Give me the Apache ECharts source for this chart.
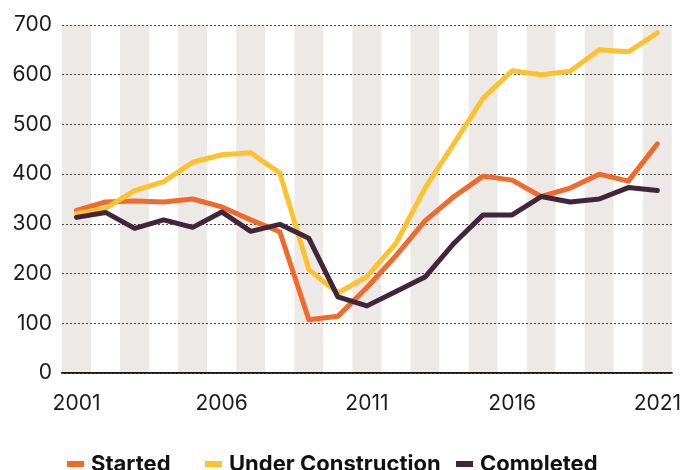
<!DOCTYPE html>
<html>
<head>
<meta charset="utf-8">
<script src="https://cdn.jsdelivr.net/npm/echarts@6/dist/echarts.min.js"></script>
<style>
  html, body { margin: 0; padding: 0; background: #fff; }
  #chart { width: 684px; height: 470px; }
</style>
</head>
<body>
<div id="chart"></div>
<script>
// data
var years = ['2001', '2002', '2003', '2004', '2005', '2006', '2007', '2008', '2009', '2010',
	'2011', '2012', '2013', '2014', '2015', '2016', '2017', '2018', '2019', '2020', '2021'];
var started = [327, 344, 346, 344, 350, 334, 308, 284, 107, 114,
	172, 236, 306, 355, 396, 388, 355, 372, 400, 386, 461];
var underConstruction = [321, 331, 367, 385, 424, 439, 443, 402, 208, 161,
	194, 261, 372, 462, 553, 608, 600, 607, 650, 646, 684];
var completed = [313, 323, 291, 308, 293, 324, 285, 299, 271, 153,
	135, 164, 193, 261, 318, 318, 355, 344, 350, 373, 367];

var colStarted = '#f26a2b';
var colUnder = '#fdc22e';
var colCompleted = '#41263b';

var chart = echarts.init(document.getElementById('chart'));

function legendAt(name, left) {
	return {
		data: [name],
		left: left,
		top: 447,
		icon: 'rect',
		itemWidth: 17,
		itemHeight: 6,
		itemGap: 0,
		selectedMode: false,
		textStyle: { fontFamily: 'Inter', fontSize: 22, fontWeight: 700, color: '#111', lineHeight: 24, padding: [0, 0, 0, 2] }
	};
}

function lineSeries(name, values, color) {
	return {
		name: name,
		type: 'line',
		data: values,
		symbol: 'none',
		z: 5,
		lineStyle: { width: 5, color: color, cap: 'round', join: 'round' },
		itemStyle: { color: color },
		animation: false
	};
}

var option = {
	backgroundColor: '#fff',
	animation: false,
	textStyle: { fontFamily: 'Inter' },
	grid: { left: 62, right: 10, top: 25, bottom: 97, containLabel: false },
	legend: [
		legendAt('Started', 62),
		legendAt('Under Construction', 200),
		legendAt('Completed', 451)
	],
	xAxis: {
		type: 'category',
		data: years,
		boundaryGap: true,
		z: 0,
		axisLine: { show: true, lineStyle: { color: '#1a1a1a', width: 2 } },
		axisTick: { show: false },
		axisLabel: { interval: 4, fontSize: 21, color: '#1a1a1a', margin: 20, fontFamily: 'Inter' },
		splitLine: { show: false },
		splitArea: { show: true, interval: 0, areaStyle: { color: ['#ede9e6', '#ffffff'] } }
	},
	yAxis: {
		type: 'value',
		min: 0,
		max: 700,
		interval: 100,
		z: 2,
		axisLine: { show: false },
		axisTick: { show: false },
		axisLabel: { fontSize: 21, color: '#1a1a1a', margin: 10, fontFamily: 'Inter' },
		splitLine: { show: true, lineStyle: { color: '#444', width: 1, type: [2, 2] } }
	},
	series: [
		lineSeries('Started', started, colStarted),
		lineSeries('Under Construction', underConstruction, colUnder),
		lineSeries('Completed', completed, colCompleted)
	]
};

chart.setOption(option);
</script>
</body>
</html>
